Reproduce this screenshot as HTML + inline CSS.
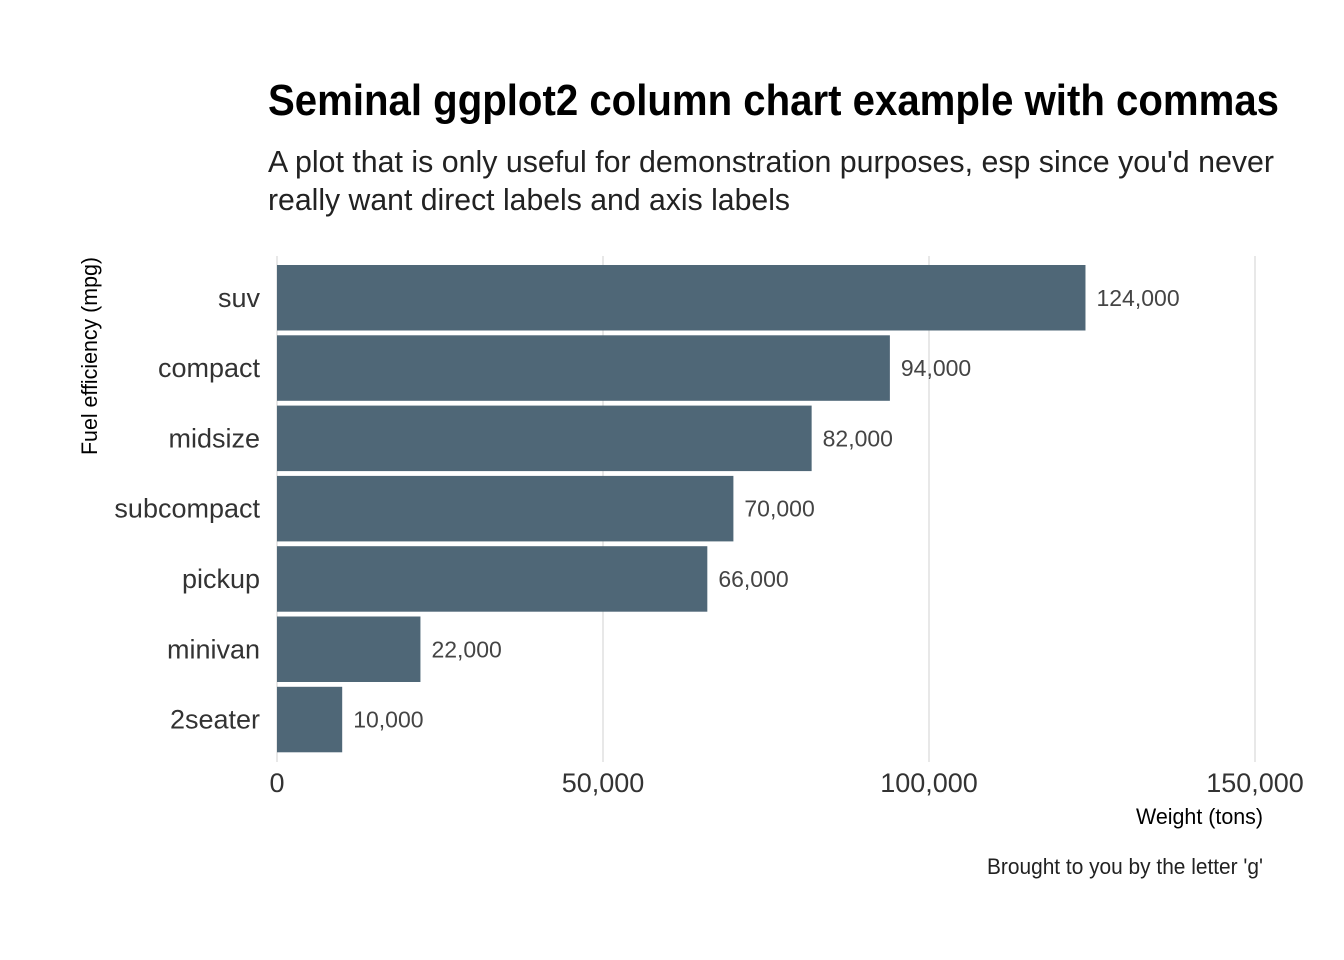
<!DOCTYPE html>
<html><head><meta charset="utf-8">
<style>
body{margin:0;background:#fff;}
svg{display:block;font-family:"Liberation Sans Narrow","Liberation Sans",sans-serif;}
</style></head>
<body>
<svg id="chart" width="1344" height="960" viewBox="0 0 1344 960">
<text x="268" y="115" font-size="44" font-weight="bold" fill="#000" textLength="1011" lengthAdjust="spacingAndGlyphs">Seminal ggplot2 column chart example with commas</text>
<text x="268" y="172" font-size="31" fill="#222" textLength="1006" lengthAdjust="spacingAndGlyphs">A plot that is only useful for demonstration purposes, esp since you'd never</text>
<text x="268" y="210" font-size="31" fill="#222" textLength="522" lengthAdjust="spacingAndGlyphs">really want direct labels and axis labels</text>
<g id="grid"></g>
<g id="bars"></g>
<g id="labels"></g>
<text x="1263" y="824" font-size="22" text-anchor="end" fill="#000" textLength="127" lengthAdjust="spacingAndGlyphs">Weight (tons)</text>
<text transform="translate(97,356) rotate(-90)" font-size="22" text-anchor="middle" fill="#000" textLength="198" lengthAdjust="spacingAndGlyphs">Fuel efficiency (mpg)</text>
<text x="1263" y="874" font-size="22" text-anchor="end" fill="#222" textLength="276" lengthAdjust="spacingAndGlyphs">Brought to you by the letter 'g'</text>
</svg>
<script>
const categories = ["suv","compact","midsize","subcompact","pickup","minivan","2seater"];
const values = [124000,94000,82000,70000,66000,22000,10000];
const xTicks = [0,50000,100000,150000];
const xTickLabels = ["0","50,000","100,000","150,000"];

const NS = "http://www.w3.org/2000/svg";
const x = v => 277 + v * (326/50000);
const bandTop = i => 265 + i * 70.3;
const barH = 65.5;
const fmt = v => v.toLocaleString("en-US");
function mk(tag, attrs, parent){const e=document.createElementNS(NS,tag);for(const k in attrs)e.setAttribute(k,attrs[k]);parent.appendChild(e);return e;}
const grid=document.getElementById("grid"),bars=document.getElementById("bars"),labels=document.getElementById("labels");
xTicks.forEach((t,i)=>{
  const l=mk("line",{x1:x(t),x2:x(t),y1:256,y2:762,stroke:"#d0d0d0","stroke-width":1},grid);
  
  
  const tx=mk("text",{x:x(t),y:792,"font-size":27,"text-anchor":"middle",fill:"#333"},labels);
  tx.textContent=xTickLabels[i];
  
  
});
categories.forEach((c,i)=>{
  const y=bandTop(i);
  const r=mk("rect",{x:x(0),y:y,width:x(values[i])-x(0),height:barH,fill:"#4f6777"},bars);
  
  
  const cl=mk("text",{x:260,y:y+barH/2+9,"font-size":27,"text-anchor":"end",fill:"#333"},labels);
  cl.textContent=c;
  
  
  const vl=mk("text",{x:x(values[i])+11,y:y+barH/2+8,"font-size":23,fill:"#444"},labels);
  vl.textContent=fmt(values[i]);
  
  
});
</script>
</body></html>
